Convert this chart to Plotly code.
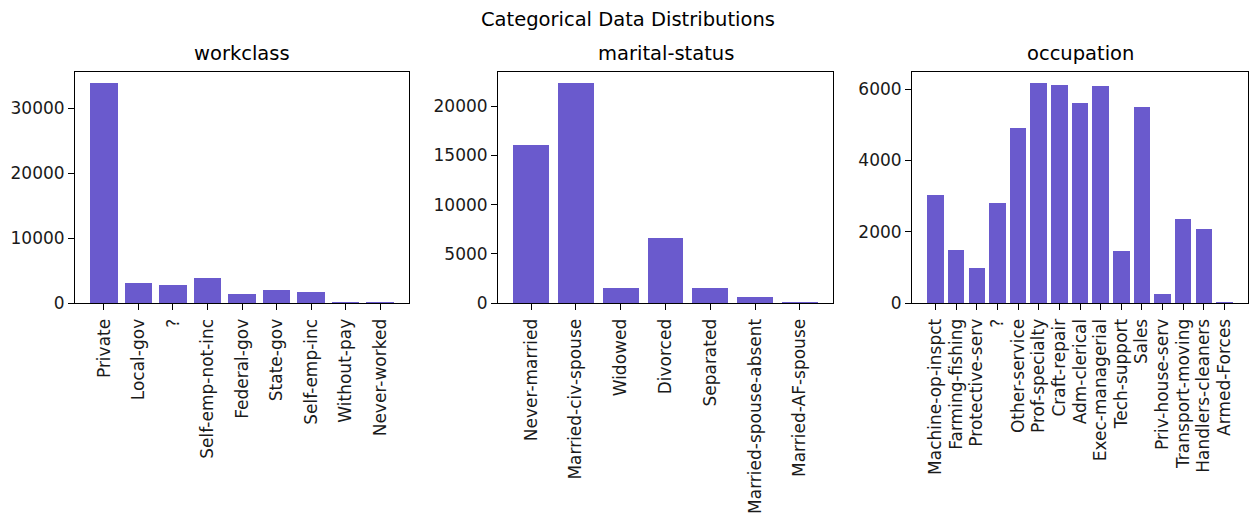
import plotly.graph_objects as go

# adult dataset category counts
workclass = ["Private", "Local-gov", "?", "Self-emp-not-inc", "Federal-gov",
             "State-gov", "Self-emp-inc", "Without-pay", "Never-worked"]
workclass_counts = [33906, 3136, 2799, 3862, 1432, 1981, 1695, 21, 10]

marital = ["Never-married", "Married-civ-spouse", "Widowed", "Divorced",
           "Separated", "Married-spouse-absent", "Married-AF-spouse"]
marital_counts = [16117, 22379, 1518, 6633, 1530, 628, 37]

occupation = ["Machine-op-inspct", "Farming-fishing", "Protective-serv", "?",
              "Other-service", "Prof-specialty", "Craft-repair", "Adm-clerical",
              "Exec-managerial", "Tech-support", "Sales", "Priv-house-serv",
              "Transport-moving", "Handlers-cleaners", "Armed-Forces"]
occupation_counts = [3022, 1490, 983, 2809, 4923, 6172, 6112, 5611, 6086,
                     1446, 5504, 242, 2355, 2072, 15]

W, H = 1256, 516
FONT = "DejaVu Sans"
BAR = "#6A5ACD"
TICK_SIZE = 17
TITLE_SIZE = 19.5

panels = [
    ("workclass", workclass, workclass_counts, (75, 409), 10000),
    ("marital-status", marital, marital_counts, (498, 833), 5000),
    ("occupation", occupation, occupation_counts, (912, 1248), 2000),
]
top_px, bottom_px = 72, 303

fig = go.Figure()
annotations = []
for i, (name, cats, vals, (x0, x1), step) in enumerate(panels):
    idx = "" if i == 0 else str(i + 1)
    n = len(cats)
    fig.add_trace(go.Bar(
        x=list(range(n)), y=vals, width=0.8,
        marker=dict(color=BAR, line=dict(width=0)),
        xaxis="x" + idx, yaxis="y" + idx, showlegend=False,
    ))
    pad = 0.05 * (n - 1 + 0.8)
    axis_common = dict(
        showline=True, linecolor="black", linewidth=1, mirror=True,
        ticks="outside", ticklen=6, tickcolor="black", showgrid=False,
        zeroline=False, automargin=False,
        tickfont=dict(family=FONT, size=TICK_SIZE, color="#1a1a1a"),
    )
    fig.layout["xaxis" + idx] = dict(
        domain=[x0 / W, x1 / W], anchor="y" + idx,
        range=[-0.4 - pad, n - 1 + 0.4 + pad],
        tickmode="array", tickvals=list(range(n)), ticktext=cats,
        tickangle=-90, ticklabelstandoff=2, **axis_common,
    )
    fig.layout["yaxis" + idx] = dict(
        domain=[1 - bottom_px / H, 1 - top_px / H], anchor="x" + idx,
        range=[0, max(vals) * 1.05], dtick=step, tick0=0, tickformat="d",
        **axis_common,
    )
    annotations.append(dict(
        text=name, x=(x0 + x1) / 2 / W, y=1 - 54 / H,
        xref="paper", yref="paper", xanchor="center", yanchor="middle",
        showarrow=False, font=dict(family=FONT, size=TITLE_SIZE, color="black"),
    ))

annotations.append(dict(
    text="Categorical Data Distributions", x=628 / W, y=1 - 20 / H,
    xref="paper", yref="paper", xanchor="center", yanchor="middle",
    showarrow=False, font=dict(family=FONT, size=TITLE_SIZE, color="black"),
))

fig.update_layout(
    width=W, height=H,
    margin=dict(l=0, r=0, t=0, b=0),
    paper_bgcolor="white", plot_bgcolor="white",
    annotations=annotations,
    bargap=0,
)

# drop the browser's default 8px body margin so pixel positions line up
fig.write_html("out.html", config={"displayModeBar": False},
               post_script="document.body.style.margin='0px';")
